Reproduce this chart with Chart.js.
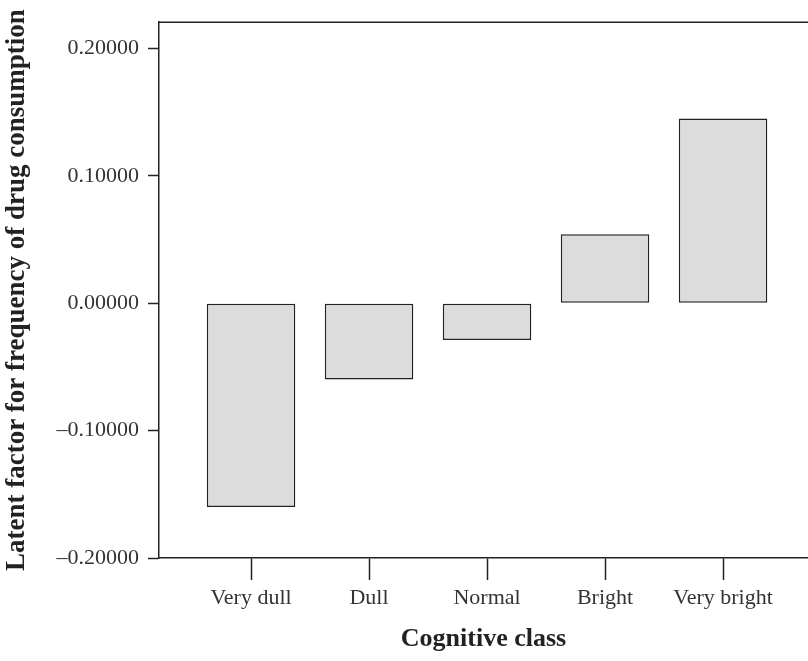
<!DOCTYPE html>
<html>
<head>
<meta charset="utf-8">
<script src="https://cdn.jsdelivr.net/npm/chart.js@4/dist/chart.umd.min.js"></script>
<style>
  body { margin: 0; background: #fff; }
  #wrap { width: 808px; height: 661px; }
</style>
</head>
<body>
<div id="wrap"><canvas id="chart1"></canvas></div>
<script>
var categories = ["Very dull", "Dull", "Normal", "Bright", "Very bright"];
var values = [-0.160, -0.060, -0.029, 0.054, 0.145];
var yTicks = [-0.2, -0.1, 0, 0.1, 0.2];

var serif = "'Liberation Serif', 'DejaVu Serif', serif";

// top frame line of the plot box
var topLine = {
    id: 'topLine',
    afterDraw: function (chart) {
        var a = chart.chartArea, ctx = chart.ctx;
        ctx.save();
        ctx.strokeStyle = '#222';
        ctx.lineWidth = 1.5;
        ctx.beginPath();
        ctx.moveTo(a.left, a.top);
        ctx.lineTo(a.right, a.top);
        ctx.stroke();
        ctx.restore();
    }
};

var data = {
    datasets: [
        {
            label: "Latent factor",
            data: categories.map(function (c, i) { return { x: i, y: values[i] }; }),
            backgroundColor: "#dcdcdc",
            borderColor: "#222",
            borderWidth: 1.5,
            borderSkipped: false,
            barPercentage: 0.75,
            categoryPercentage: 1
        }
    ]
};

var myBarChart = new Chart(document.getElementById("chart1"), {
    type: 'bar',
    data: data,
    plugins: [topLine],
    options: {
        responsive: true,
        maintainAspectRatio: false,
        animation: false,
        layout: { padding: { top: 22, right: 0, left: 0, bottom: 0 } },
        plugins: { legend: { display: false }, tooltip: { enabled: false } },
        scales: {
            x: {
                type: 'linear',
                offset: false,
                min: -0.78,
                max: 4.72,
                afterBuildTicks: function (s) {
                    s.ticks = categories.map(function (c, i) { return { value: i }; });
                },
                afterFit: function (s) { s.height = 103; },
                grid: { offset: false, drawOnChartArea: false, tickLength: 22, tickColor: '#222', tickWidth: 1.5 },
                border: { color: '#222', width: 1.5 },
                ticks: {
                    padding: 5,
                    color: '#333',
                    font: { family: serif, size: 22 },
                    maxRotation: 0,
                    callback: function (v) { return categories[v]; }
                },
                title: {
                    display: true,
                    text: 'Cognitive class',
                    color: '#222',
                    font: { family: serif, size: 26, weight: 'bold' },
                    padding: { top: 0, bottom: 6 }
                }
            },
            y: {
                min: -0.2,
                max: 0.2205,
                afterBuildTicks: function (s) {
                    s.ticks = yTicks.map(function (v) { return { value: v }; });
                },
                afterFit: function (s) { s.width = 159; },
                grid: { drawOnChartArea: false, tickLength: 11, tickColor: '#222', tickWidth: 1.5 },
                border: { color: '#222', width: 1.5 },
                ticks: {
                    padding: 9,
                    color: '#333',
                    font: { family: serif, size: 22 },
                    callback: function (v) {
                        return v < 0 ? '\u2013' + Math.abs(v).toFixed(5) : Math.abs(v).toFixed(5);
                    }
                },
                title: {
                    display: true,
                    text: 'Latent factor for frequency of drug consumption',
                    color: '#222',
                    font: { family: serif, size: 27, weight: 'bold' },
                    padding: { top: 1, bottom: 0 }
                }
            }
        }
    }
});
</script>
</body>
</html>
